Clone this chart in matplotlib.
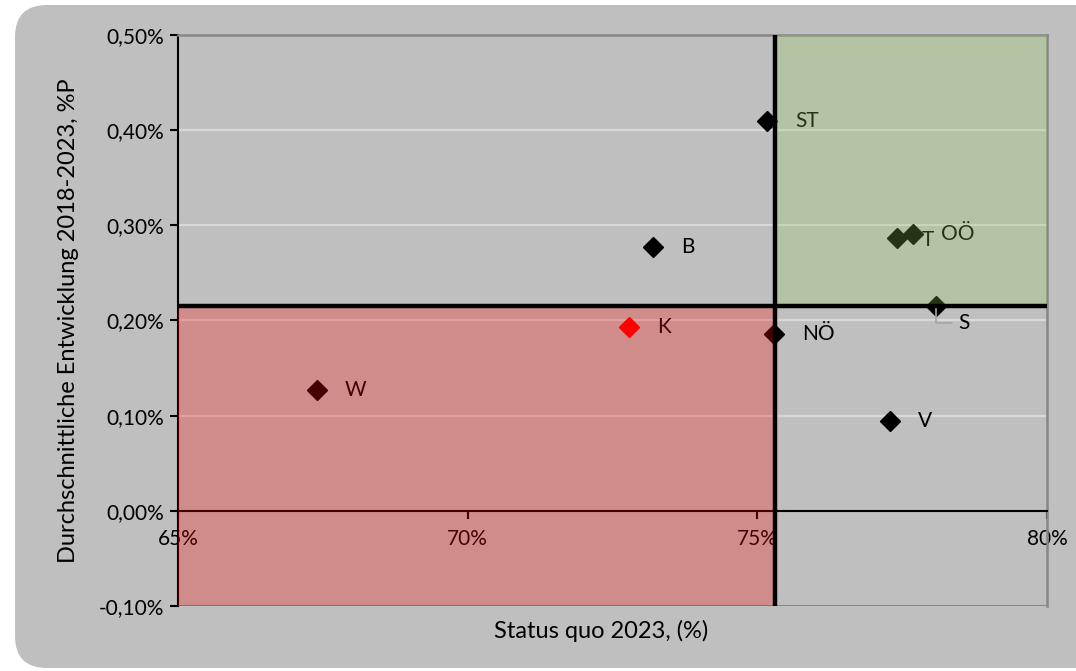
import numpy as np
import matplotlib
matplotlib.use("Agg")
import matplotlib.pyplot as plt
from matplotlib.patches import FancyBboxPatch, Rectangle
from matplotlib.ticker import FuncFormatter

plt.rcParams['font.family'] = ['Lato', 'DejaVu Sans']

# data: status quo 2023 (%) vs. avg. development 2018-2023 (%P)
labels = ["ST", "B", "T", "OÖ", "S", "K", "NÖ", "W", "V"]
status_quo = [75.17, 73.20, 77.41, 77.69, 78.08, 72.79, 75.29, 67.40, 77.29]
entwicklung = [0.410, 0.277, 0.287, 0.291, 0.215, 0.193, 0.186, 0.127, 0.094]
colors = ["black", "black", "black", "black", "black", "red", "black", "black", "black"]

# quadrant thresholds (Austria average)
x_mid = 75.31
y_mid = 0.2153

x_ticks = [65, 70, 75, 80]
y_ticks = [-0.1, 0.0, 0.1, 0.2, 0.3, 0.4, 0.5]

FS = 15
FS_TITLE = 17

fig = plt.figure(figsize=(10.76, 6.71), dpi=100)
fig.patch.set_facecolor("white")

# rounded grey chart area
bg = FancyBboxPatch((0.15, 0.03), 11.0, 6.63, boxstyle="round,pad=0,rounding_size=0.32",
                    transform=fig.dpi_scale_trans, facecolor="#BFBFBF", edgecolor="none", zorder=-10)
fig.add_artist(bg)

ax = fig.add_axes([178/1076, 1 - 606/671, (1047-178)/1076, (606-35)/671])
ax.set_facecolor("#BFBFBF")
ax.set_xlim(65, 80)
ax.set_ylim(-0.1, 0.5)

# grid
for v in y_ticks[2:-1]:
    ax.axhline(v, color="#D9D9D9", lw=1.6, zorder=1)

# points and labels
for lab, xv, yv, c in zip(labels, status_quo, entwicklung, colors):
    ax.plot(xv, yv, marker="D", ms=10.5, color=c, ls="none", zorder=2)
    if lab == "S":
        ax.annotate(lab, xy=(xv, yv), xytext=(16, -12), textcoords="offset points",
                    fontsize=FS, va="center", ha="left", zorder=2,
                    arrowprops=dict(arrowstyle="-", color="#A6A6A6", lw=1.2,
                                    shrinkA=2, shrinkB=0,
                                    connectionstyle="angle,angleA=0,angleB=90,rad=0"))
    elif lab == "T":
        ax.annotate(lab, xy=(xv, yv), xytext=(18, -2), textcoords="offset points",
                    fontsize=FS, va="center", ha="left", zorder=2)
    else:
        ax.annotate(lab, xy=(xv, yv), xytext=(20, 0), textcoords="offset points",
                    fontsize=FS, va="center", ha="left", zorder=2)

# quadrant overlays
ax.add_patch(Rectangle((65, -0.1), x_mid - 65, y_mid + 0.1, facecolor="#FF0000",
                       alpha=0.27, edgecolor="none", zorder=3))
ax.add_patch(Rectangle((x_mid, y_mid), 80 - x_mid, 0.5 - y_mid, facecolor="#92D050",
                       alpha=0.25, edgecolor="none", zorder=3))

# threshold lines
ax.axvline(x_mid, color="black", lw=3.2, zorder=4)
ax.axhline(y_mid, color="black", lw=3.2, zorder=4)

# axes styling
ax.spines["bottom"].set_position(("data", 0))
ax.spines["bottom"].set_color("black")
ax.spines["bottom"].set_linewidth(1.5)
ax.spines["left"].set_color("black")
ax.spines["left"].set_linewidth(1.5)
ax.spines["top"].set_color("#878787")
ax.spines["right"].set_color("#878787")
ax.spines["top"].set_linewidth(1.8)
ax.spines["right"].set_linewidth(1.8)
ax.axhline(-0.1, color="#878787", lw=2.2, zorder=2.5)

ax.set_xticks(x_ticks)
ax.set_yticks(y_ticks)
ax.xaxis.set_major_formatter(FuncFormatter(lambda v, p: f"{v:.0f}%"))
ax.yaxis.set_major_formatter(FuncFormatter(lambda v, p: f"{v:.2f}%".replace(".", ",")))
ax.tick_params(axis="both", labelsize=FS, length=6, width=1.5, color="black")
ax.tick_params(axis="x", pad=7)
ax.tick_params(axis="y", pad=4)

ax.set_xlabel("Status quo 2023, (%)", fontsize=FS_TITLE)
ax.xaxis.set_label_coords(0.487, -0.024)
ax.set_ylabel("Durchschnittliche Entwicklung 2018-2023, %P", fontsize=FS_TITLE)
ax.yaxis.set_label_coords(-0.114, 0.5)

fig.savefig("out.png", dpi=100)
